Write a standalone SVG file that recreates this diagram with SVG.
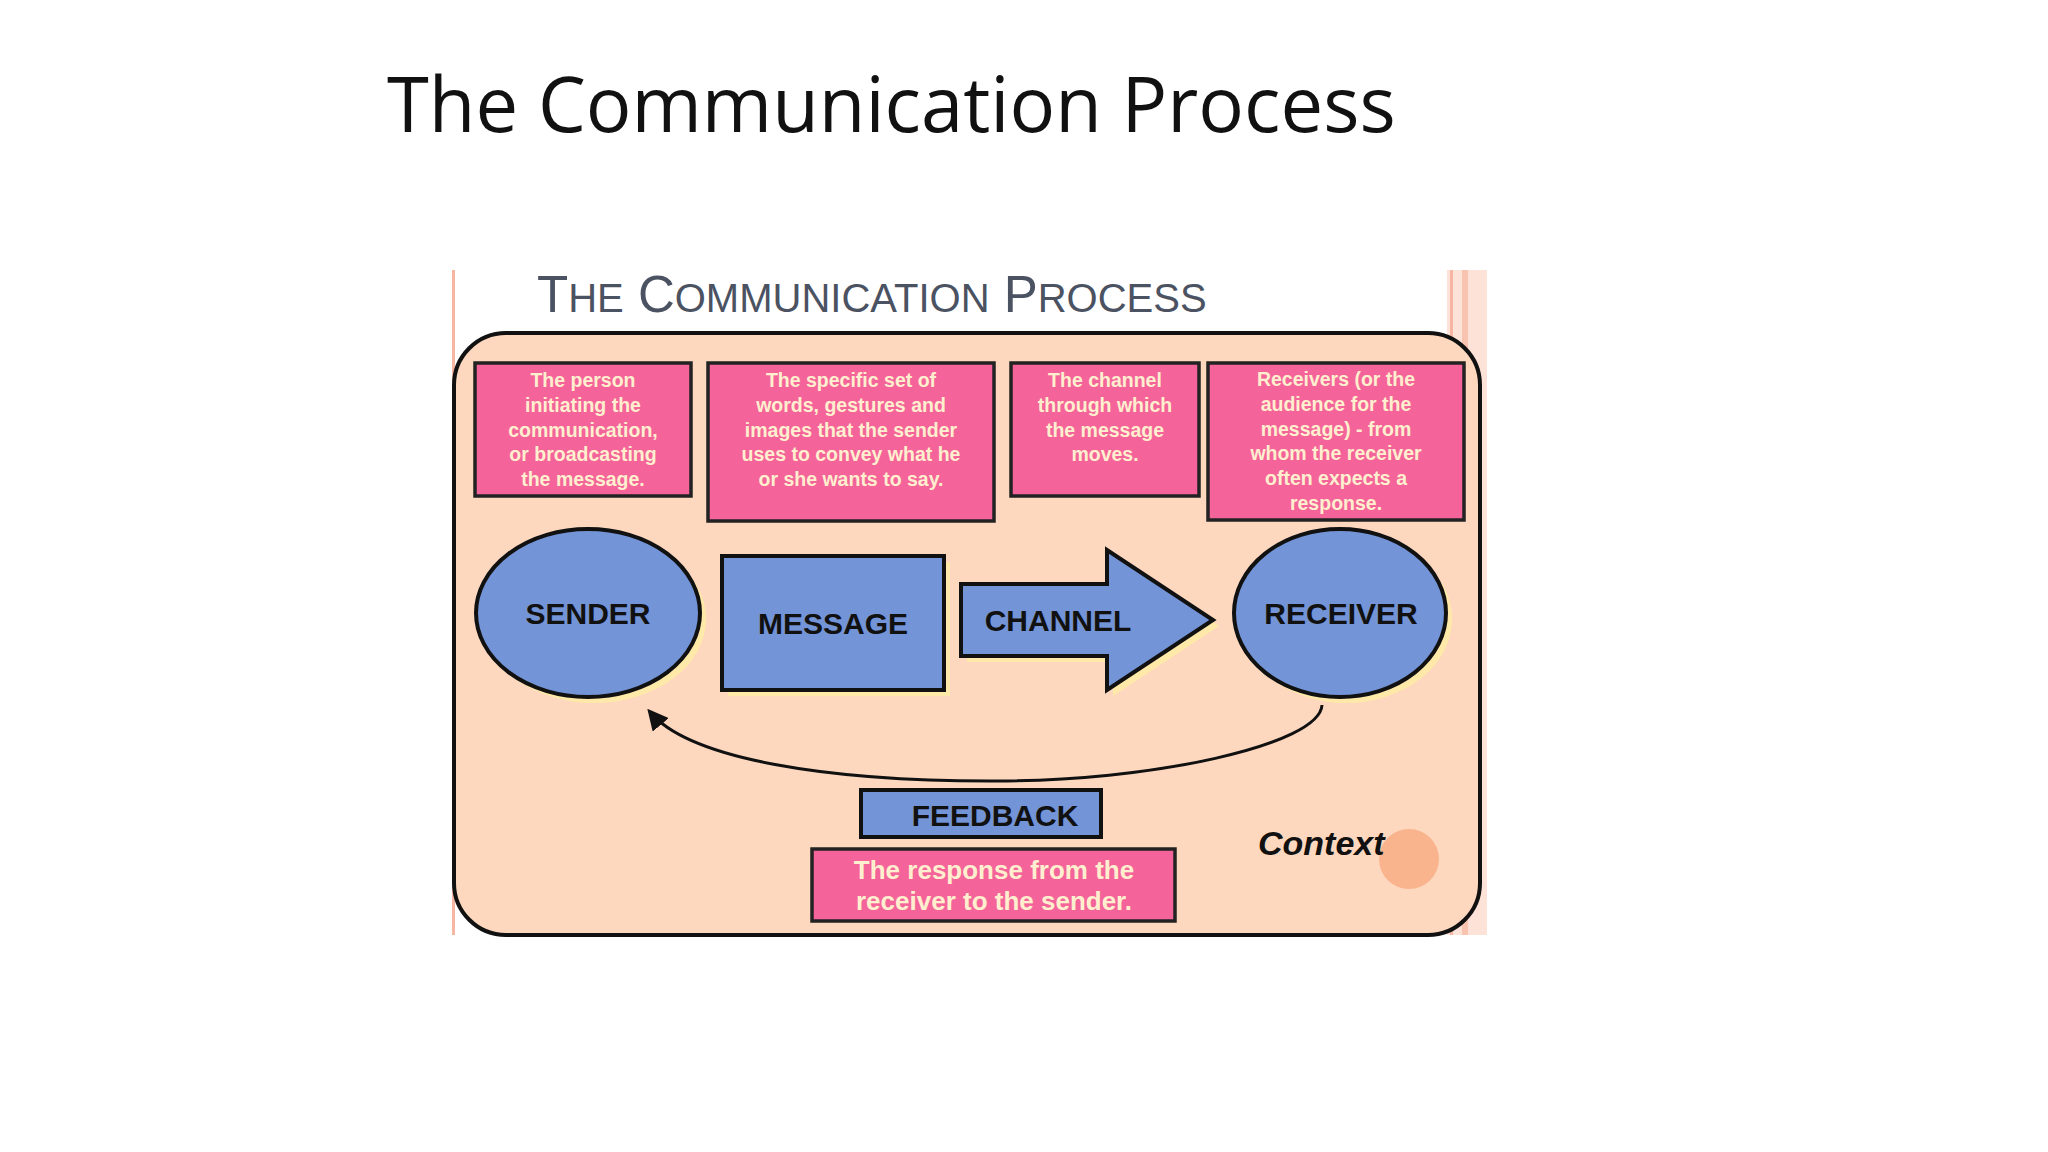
<svg xmlns="http://www.w3.org/2000/svg" width="2048" height="1152" viewBox="0 0 2048 1152">
<style>
.pk{fill:#f4649a;stroke:#222;stroke-width:3.5}
.bl{fill:#7394d6;stroke:#111;stroke-width:4}
.pt{font-family:"Liberation Sans",Arial,sans-serif;font-weight:bold;font-size:19.5px;fill:#ffefcf;text-anchor:middle}
.lb{font-family:"Liberation Sans",Arial,sans-serif;font-weight:bold;font-size:30px;fill:#111;text-anchor:middle}
.sh{fill:#ffe9a8}
</style>
<defs>
<marker id="ah" viewBox="0 0 10 10" refX="8" refY="5" markerWidth="7" markerHeight="7" orient="auto-start-reverse"><path d="M0,0 L10,5 L0,10 z" fill="#111"/></marker>
</defs>
<rect width="2048" height="1152" fill="#fff"/>
<text x="387" y="132" font-family="Open Sans,Liberation Sans,sans-serif" font-size="76" fill="#111">The Communication Process</text>
<g id="panel">
<rect x="452" y="270" width="3" height="665" fill="#f6b6a4"/>
<rect x="1447" y="270" width="40" height="665" fill="#fde2d8"/>
<rect x="1450" y="270" width="3" height="665" fill="#f6b6a4"/>
<rect x="1462" y="270" width="6" height="665" fill="#f8c4b0"/>
<text x="537" y="312" font-family="Liberation Sans,Arial,sans-serif" font-size="51" fill="#4b5262">T<tspan font-size="40">HE</tspan> C<tspan font-size="40">OMMUNICATION</tspan> P<tspan font-size="40">ROCESS</tspan></text>
<rect x="454" y="333" width="1026" height="602" rx="52" fill="#fdd8bf" stroke="#111" stroke-width="4"/>
<circle cx="1409" cy="859" r="30" fill="#f9b48e"/>
</g>
<g id="desc-sender"><rect class="pk" x="475" y="363" width="216" height="133"/>
<text class="pt" x="583"><tspan x="583" y="387">The person</tspan><tspan x="583" y="412">initiating the</tspan><tspan x="583" y="437">communication,</tspan><tspan x="583" y="461">or broadcasting</tspan><tspan x="583" y="486">the message.</tspan></text></g>
<g id="desc-message"><rect class="pk" x="708" y="363" width="286" height="158"/>
<text class="pt"><tspan x="851" y="387">The specific set of</tspan><tspan x="851" y="412">words, gestures and</tspan><tspan x="851" y="437">images that the sender</tspan><tspan x="851" y="461">uses to convey what he</tspan><tspan x="851" y="486">or she wants to say.</tspan></text></g>
<g id="desc-channel"><rect class="pk" x="1011" y="363" width="188" height="133"/>
<text class="pt"><tspan x="1105" y="387">The channel</tspan><tspan x="1105" y="412">through which</tspan><tspan x="1105" y="437">the message</tspan><tspan x="1105" y="461">moves.</tspan></text></g>
<g id="desc-receiver"><rect class="pk" x="1208" y="363" width="256" height="157"/>
<text class="pt"><tspan x="1336" y="386">Receivers (or the</tspan><tspan x="1336" y="411">audience for the</tspan><tspan x="1336" y="436">message) - from</tspan><tspan x="1336" y="460">whom the receiver</tspan><tspan x="1336" y="485">often expects a</tspan><tspan x="1336" y="510">response.</tspan></text></g>
<g id="sender"><ellipse class="sh" cx="594" cy="619" rx="112" ry="84"/><ellipse class="bl" cx="588" cy="613" rx="112" ry="84"/><text class="lb" x="588" y="624">SENDER</text></g>
<g id="message"><rect class="sh" x="728" y="562" width="222" height="134"/><rect class="bl" x="722" y="556" width="222" height="134"/><text class="lb" x="833" y="634">MESSAGE</text></g>
<g id="channel"><path class="sh" d="M967,590 H1113 V556 L1219,626 L1113,696 V662 H967 Z"/><path class="bl" d="M961,584 H1107 V550 L1213,620 L1107,690 V656 H961 Z"/><text class="lb" x="1058" y="631">CHANNEL</text></g>
<g id="receiver"><ellipse class="sh" cx="1346" cy="619" rx="106" ry="84"/><ellipse class="bl" cx="1340" cy="613" rx="106" ry="84"/><text class="lb" x="1341" y="624">RECEIVER</text></g>
<g id="connectors"><path d="M1322,705 C1320,745 1150,782 990,781 C830,781 690,760 650,712" fill="none" stroke="#111" stroke-width="3" marker-end="url(#ah)"/></g>
<g id="feedback"><rect class="bl" x="861" y="790" width="240" height="47" stroke-width="3.5"/><text class="lb" x="995" y="826">FEEDBACK</text></g>
<g id="feedback-desc"><rect class="pk" x="812" y="849" width="363" height="72"/>
<text class="pt" font-size="26" style="font-size:26px"><tspan x="994" y="879">The response from the</tspan><tspan x="994" y="910">receiver to the sender.</tspan></text></g>
<g id="context"><text x="1258" y="855" font-family="Liberation Sans,Arial,sans-serif" font-weight="bold" font-style="italic" font-size="34" fill="#111">Context</text></g>
</svg>
